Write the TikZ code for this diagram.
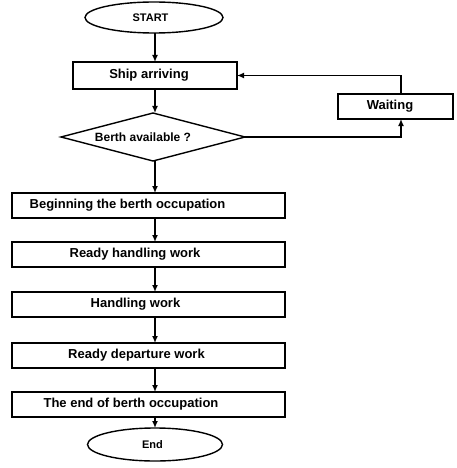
\documentclass[tikz,border=0pt]{standalone}
\usepackage{fontspec}
\setmainfont{Liberation Sans}
\usepackage{tikz}
\usetikzlibrary{arrows.meta, positioning, shapes.geometric}
\tikzset{%
  flow_block/.style={%
    rectangle,%
    draw=black,%
    line width=1.4pt,%
    minimum width=273pt,%
    minimum height=25pt,%
    inner sep=0pt,%
    outer sep=0pt,%
    font={\bfseries\fontsize{13}{15}\selectfont},%
    align=center%
  },
  small_block/.style={%
    flow_block,%
    minimum width=#1,%
  },
  flow_term/.style={%
    ellipse,%
    draw=black,%
    line width=1.4pt,%
    minimum width=138pt,%
    minimum height=31pt,%
    inner sep=0pt,%
    outer sep=0pt,%
    font={\bfseries\fontsize{11}{13}\selectfont},%
  },
  flow_decide/.style={%
    diamond,%
    draw=black,%
    line width=1.4pt,%
    aspect=3.8,%
    minimum width=184pt,%
    minimum height=48pt,%
    inner sep=1pt,%
    outer sep=0pt,%
    font={\bfseries\fontsize{12}{14}\selectfont},%
  },
  pad/.style={%
    execute at end node={\hspace*{#1}}%
  },
  flow_path/.style={%
    color=black,%
    line width=1.4pt,%
    line join=miter,%
  },
  arrow/.style={-{Latex[length=7pt, width=6pt]}},
}
\begin{document}
\begin{tikzpicture}[x=1pt, y=1pt]
    \useasboundingbox (0,0) rectangle (456,-468);
    \node [flow_term, pad=7pt] (Start) at (154,-17.5) {START};
    \node [small_block=164pt, minimum height=27pt, pad=12pt,
      below = 29pt of Start, xshift=1pt] (Ship) {Ship arriving};
    \node [flow_decide, pad=20pt, below = 24pt of Ship, xshift=-2pt]
      (Decide) {Berth available ?};
    \node [small_block=115pt, pad=11pt, right = 101pt of Ship, yshift=-31pt]
      (Wait) {Waiting};
    \node [flow_block, pad=42pt, below = 32pt of Decide, xshift=-4.5pt]
      (Begin) {Beginning the berth occupation};
    \node [flow_block, pad=27pt, below = 24pt of Begin] (Ready) {Ready handling work};
    \node [flow_block, pad=26pt, below = 25pt of Ready] (Handle) {Handling work};
    \node [flow_block, pad=24pt, below = 26pt of Handle] (Depart) {Ready departure work};
    \node [flow_block, pad=35pt, below = 24pt of Depart]
      (Finish) {The end of berth occupation};
    \node [flow_term, minimum width=135pt, minimum height=33pt, pad=5pt,
      below = 11pt of Finish, xshift=6.5pt] (End) {End};

    \draw [arrow, flow_path]
      (Start.south -| Ship) -- (Ship.north);
    \draw [arrow, flow_path]
      (Ship.south) -- (Ship.south |- Decide.north);
    \draw [arrow, flow_path]
      (Decide.south -| Ship) -- (Begin.north -| Ship);
    \draw [arrow, flow_path]
      (Begin.south -| Ship) -- (Ready.north -| Ship);
    \draw [arrow, flow_path]
      (Ready.south -| Ship) -- (Handle.north -| Ship);
    \draw [arrow, flow_path]
      (Handle.south -| Ship) -- (Depart.north -| Ship);
    \draw [arrow, flow_path]
      (Depart.south -| Ship) -- (Finish.north -| Ship);
    \draw [arrow, flow_path]
      (Finish.south -| End) -- (End.north);
    % loop back while the berth is busy
    \draw [arrow, flow_path]
      (Decide.east)
      -|
      ([xshift=5.5pt]Wait.south);
    \draw [arrow, flow_path]
      ([xshift=5.5pt]Wait.north)
      |-
      (Ship.east);
  \end{tikzpicture}
\end{document}
